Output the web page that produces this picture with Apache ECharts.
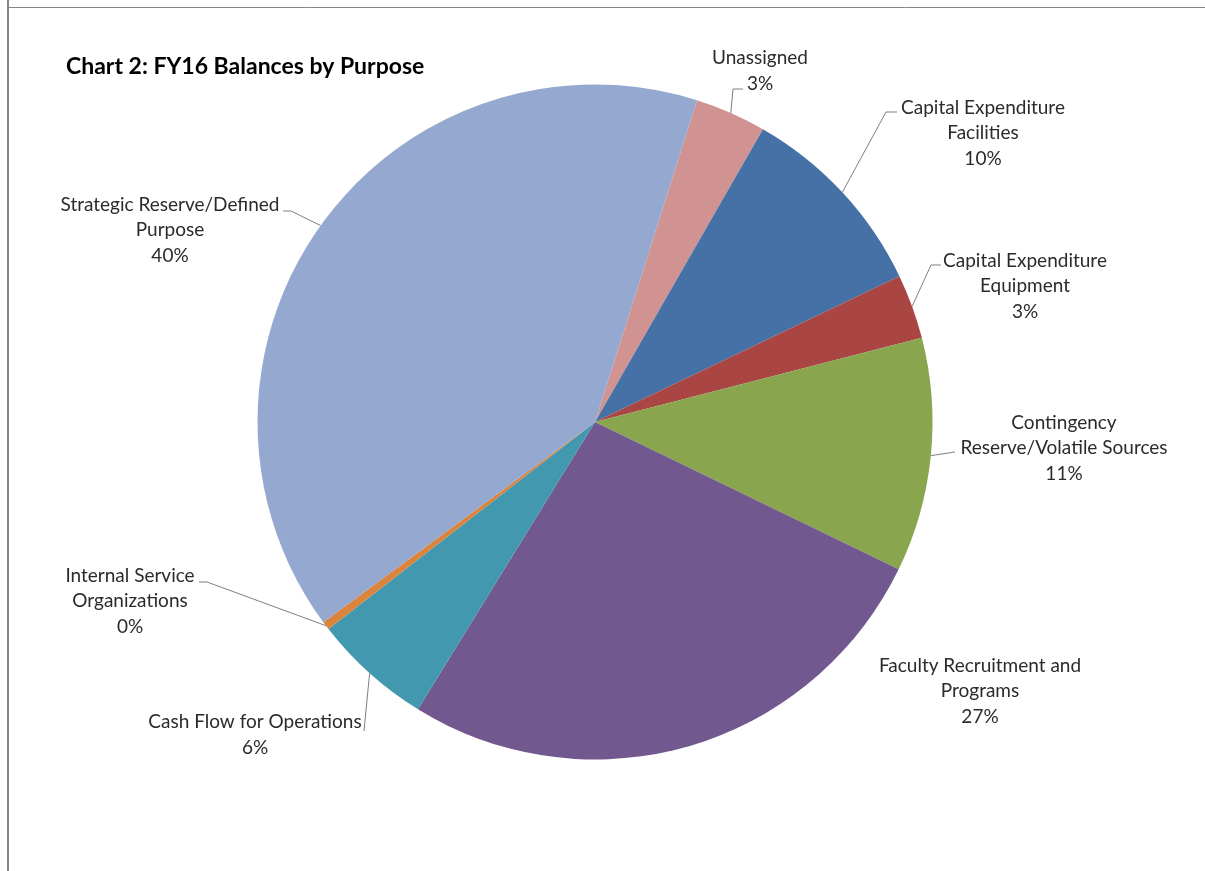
<!DOCTYPE html>
<html>
<head>
<meta charset="utf-8">
<title>Chart 2: FY16 Balances by Purpose</title>
<script src="https://cdn.jsdelivr.net/npm/echarts@6/dist/echarts.min.js"></script>
<style>
  html, body { margin: 0; padding: 0; background: #ffffff; }
  #chart { width: 1205px; height: 871px; }
</style>
</head>
<body>
<div id="chart"></div>
<script>
// Slice names (wrapped as they appear in the labels), clockwise from the top.
const categories = [
  'Unassigned',
  'Capital Expenditure\nFacilities',
  'Capital Expenditure\nEquipment',
  'Contingency\nReserve/Volatile Sources',
  'Faculty Recruitment and\nPrograms',
  'Cash Flow for Operations',
  'Internal Service\nOrganizations',
  'Strategic Reserve/Defined\nPurpose'
];
// Share of FY16 balances, in percent.
const shares = [3.4, 9.6, 3.1, 11.2, 26.6, 5.7, 0.4, 40.0];
const sliceColors = ['#D09392', '#4571A6', '#A94643', '#89A54E', '#71598F', '#4298AF', '#DB843D', '#95A8CF'];

// Where each label block sits (centre) and the bend points of its leader line.
const labelSpots = [
  { x: 760,  y: 71,  line: [[733, 89], [743, 89]] },
  { x: 983,  y: 133, line: [[886, 112], [897, 112]] },
  { x: 1025, y: 286, line: [[931, 265], [941, 265]] },
  { x: 1064, y: 448, line: [[955, 452]] },
  { x: 980,  y: 691, line: null },
  { x: 255,  y: 735, line: [[364, 731]] },
  { x: 130,  y: 601, line: [[207, 582], [199, 582]] },
  { x: 170,  y: 230, line: [[291, 211], [283, 211]] }
];

const FONT = 'Lato, "Open Sans", sans-serif';

const chart = echarts.init(document.getElementById('chart'));

const pieData = categories.map((name, i) => ({
  name: name,
  value: shares[i],
  itemStyle: { color: sliceColors[i] },
  labelLine: { show: labelSpots[i].line !== null }
}));

chart.setOption({
  animation: false,
  backgroundColor: '#ffffff',
  title: {
    text: 'Chart 2: FY16 Balances by Purpose',
    left: 66,
    top: 55,
    padding: 0,
    textStyle: { fontFamily: FONT, fontSize: 23, fontWeight: 'bold', color: '#000000' }
  },
  graphic: [
    { type: 'line', shape: { x1: 8, y1: 0, x2: 8, y2: 871 }, style: { stroke: '#868686', lineWidth: 2 }, z: 10 },
    { type: 'line', shape: { x1: 7, y1: 7.5, x2: 1205, y2: 7.5 }, style: { stroke: '#868686', lineWidth: 1 }, z: 10 }
  ],
  series: [{
    type: 'pie',
    center: [595, 422],
    radius: 337.5,
    startAngle: 72.4,
    clockwise: true,
    percentPrecision: 0,
    avoidLabelOverlap: false,
    itemStyle: { borderWidth: 0 },
    label: {
      show: true,
      position: 'outside',
      formatter: '{b}\n{d}%',
      fontFamily: FONT,
      fontSize: 19,
      lineHeight: 25.5,
      color: '#2b2b2b',
      align: 'center'
    },
    labelLine: {
      show: true,
      length: 10,
      length2: 10,
      smooth: false,
      lineStyle: { color: '#7f7f7f', width: 1 }
    },
    labelLayout: function (params) {
      const spot = labelSpots[params.dataIndex];
      const out = { x: spot.x, y: spot.y, align: 'center', verticalAlign: 'middle' };
      if (spot.line && params.labelLinePoints && params.labelLinePoints.length) {
        const edge = params.labelLinePoints[0];
        out.labelLinePoints = [[edge[0], edge[1]]].concat(spot.line);
      }
      return out;
    },
    data: pieData
  }]
});
</script>
</body>
</html>
